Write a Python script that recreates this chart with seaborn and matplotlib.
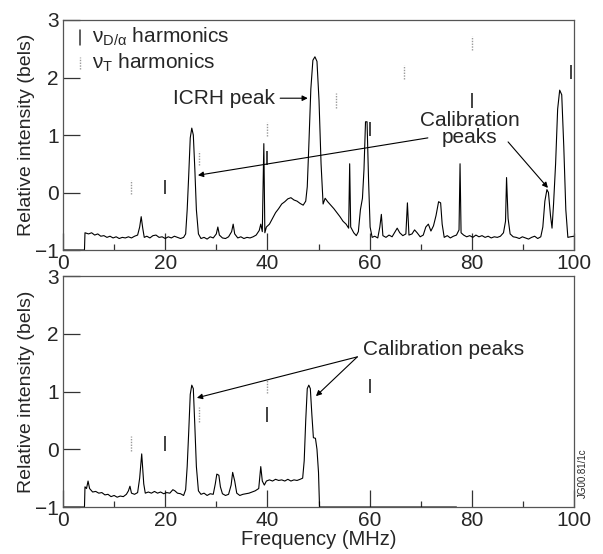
import numpy as np
import pandas as pd
import seaborn as sns
import matplotlib.pyplot as plt

# top spectrum (with ICRH heating), frequency in MHz, intensity in bels
top_freq = [0, 4.2, 4.3, 5, 5.6, 6.2, 6.8, 7.4, 8.0, 8.6, 9.2, 9.8, 10.4, 11.0, 11.6, 12.2, 12.8, 13.4, 14.0, 14.6,
            15.0, 15.3, 15.6, 15.9, 16.4, 17.0, 17.6, 18.2, 18.8, 19.4, 20.0, 20.6, 21.2, 21.8, 22.4, 23.0, 23.6,
            24.0, 24.3, 24.6, 24.9, 25.2, 25.5, 25.8, 26.1, 26.5, 27.0, 27.6, 28.2, 28.8, 29.4, 30.0, 30.3, 30.6,
            31.2, 31.8, 32.4, 33.0, 33.3, 33.6, 34.2, 34.8, 35.4, 36.0, 36.6, 37.2, 37.8, 38.4, 38.7, 39.0, 39.3,
            39.5, 39.8, 40.4, 41.0, 41.6, 42.2, 42.8, 43.4, 44.0, 44.6, 45.2, 45.8, 46.4, 47.0, 47.5, 47.8, 48.1,
            48.5, 48.9, 49.3, 49.7, 50.1, 50.5, 50.9, 51.3, 51.8, 52.4, 53.0, 53.6, 54.2, 54.8, 55.4, 55.9, 56.1,
            56.3, 56.9, 57.4, 57.8, 58.2, 58.6, 58.9, 59.2, 59.5, 59.8, 60.1, 60.5, 61.0, 61.6, 62.0, 62.3, 62.6,
            63.2, 63.8, 64.4, 65.0, 65.4, 65.9, 66.5, 67.1, 67.4, 67.7, 68.3, 68.8, 69.3, 69.9, 70.5, 71.0, 71.5,
            72.0, 72.5, 73.0, 73.5, 73.9, 74.2, 74.6, 75.2, 75.8, 76.4, 77.0, 77.5, 77.7, 77.9, 78.4, 79.0, 79.6,
            80.2, 80.8, 81.4, 82.0, 82.6, 83.2, 83.8, 84.4, 85.0, 85.6, 86.2, 86.6, 86.8, 87.1, 87.5, 88.1, 88.7,
            89.3, 89.9, 90.5, 91.1, 91.7, 92.3, 92.9, 93.5, 93.9, 94.3, 94.7, 95.0, 95.4, 95.7, 96.0, 96.4, 96.8,
            97.2, 97.6, 98.0, 98.4, 98.8, 99.3, 100.0]
top_int = [-1.0, -1.0, -0.70, -0.72, -0.70, -0.74, -0.72, -0.76, -0.75, -0.78, -0.76, -0.79, -0.77, -0.80, -0.78,
           -0.79, -0.77, -0.79, -0.76, -0.74, -0.60, -0.42, -0.62, -0.78, -0.76, -0.79, -0.75, -0.74, -0.78, -0.77,
           -0.80, -0.77, -0.79, -0.76, -0.78, -0.80, -0.78, -0.72, -0.30, 0.30, 0.95, 1.12, 1.00, 0.40, -0.30,
           -0.72, -0.80, -0.78, -0.81, -0.77, -0.79, -0.72, -0.60, -0.74, -0.79, -0.80, -0.77, -0.68, -0.55, -0.72,
           -0.79, -0.77, -0.80, -0.78, -0.79, -0.77, -0.74, -0.66, -0.55, -0.68, 0.85, -0.70, -0.60, -0.55, -0.45,
           -0.35, -0.28, -0.20, -0.16, -0.11, -0.09, -0.13, -0.15, -0.19, -0.22, -0.15, 0.10, 0.80, 1.80, 2.30,
           2.36, 2.28, 1.60, 0.50, -0.20, -0.10, -0.16, -0.22, -0.28, -0.35, -0.42, -0.50, -0.55, -0.62, 0.50,
           -0.60, -0.70, -0.75, -0.68, -0.30, -0.10, 0.40, 1.23, 1.23, 0.20, -0.60, -0.78, -0.76, -0.79, -0.60,
           -0.38, -0.75, -0.78, -0.74, -0.77, -0.68, -0.62, -0.70, -0.75, -0.72, -0.18, -0.74, -0.72, -0.65, -0.70,
           -0.77, -0.74, -0.60, -0.55, -0.67, -0.58, -0.40, -0.16, -0.18, -0.55, -0.78, -0.75, -0.79, -0.76, -0.74,
           -0.65, 0.50, -0.70, -0.74, -0.77, -0.75, -0.78, -0.74, -0.77, -0.75, -0.78, -0.76, -0.79, -0.77, -0.78,
           -0.76, -0.70, -0.50, 0.26, -0.45, -0.72, -0.77, -0.78, -0.80, -0.77, -0.79, -0.81, -0.78, -0.76, -0.80,
           -0.77, -0.60, -0.15, 0.05, 0.00, -0.40, -0.62, -0.20, 0.50, 1.45, 1.78, 1.70, 0.80, -0.30, -0.78, -0.77,
           -0.76]

# bottom spectrum (calibration only)
bot_freq = [0, 4.2, 4.3, 4.6, 4.9, 5.2, 5.8, 6.4, 7.0, 7.6, 8.2, 8.8, 9.4, 10.0, 10.6, 11.2, 11.8, 12.4, 12.8, 13.1,
            13.4, 14.0, 14.6, 15.0, 15.4, 15.8, 16.1, 16.7, 17.3, 17.9, 18.5, 19.1, 19.7, 20.3, 20.9, 21.5, 21.9,
            22.4, 23.0, 23.6, 24.0, 24.3, 24.6, 24.9, 25.2, 25.5, 25.8, 26.1, 26.5, 27.0, 27.6, 28.2, 28.8, 29.4,
            29.8, 30.1, 30.5, 30.8, 31.2, 31.8, 32.4, 32.9, 33.2, 33.6, 34.0, 34.6, 35.2, 35.8, 36.4, 37.0, 37.6,
            38.3, 38.7, 39.0, 39.4, 39.8, 40.4, 41.0, 41.6, 42.2, 42.8, 43.4, 44.0, 44.6, 45.2, 45.8, 46.4, 46.9,
            47.2, 47.5, 47.8, 48.1, 48.4, 48.7, 49.0, 49.4, 49.7, 50.0, 50.2, 77.0]
bot_int = [-1.0, -1.0, -0.65, -0.68, -0.55, -0.68, -0.74, -0.73, -0.76, -0.75, -0.79, -0.78, -0.82, -0.80, -0.83,
           -0.81, -0.82, -0.78, -0.72, -0.64, -0.76, -0.78, -0.75, -0.50, -0.08, -0.60, -0.76, -0.74, -0.76, -0.73,
           -0.76, -0.74, -0.77, -0.75, -0.76, -0.70, -0.72, -0.76, -0.77, -0.80, -0.70, -0.30, 0.30, 0.95, 1.11,
           1.05, 0.40, -0.30, -0.72, -0.78, -0.76, -0.80, -0.77, -0.78, -0.60, -0.43, -0.45, -0.65, -0.77, -0.80,
           -0.78, -0.62, -0.40, -0.55, -0.76, -0.80, -0.78, -0.77, -0.76, -0.74, -0.72, -0.68, -0.30, -0.55, -0.62,
           -0.55, -0.53, -0.55, -0.52, -0.54, -0.53, -0.55, -0.52, -0.55, -0.53, -0.54, -0.52, -0.50, -0.20, 0.50,
           1.05, 1.11, 1.05, 0.60, 0.20, 0.19, 0.00, -0.40, -1.0, -1.0]

# harmonic markers: frequency and height (centre of the tick mark)
dalpha_freq_top = [20, 40, 60, 80, 99.5]
dalpha_lvl_top = [0.1, 0.6, 1.1, 1.6, 2.1]
triton_freq_top = [13.33, 26.67, 40, 53.33, 66.67, 80]
triton_lvl_top = [0.1, 0.6, 1.1, 1.6, 2.1, 2.6]
dalpha_freq_bot = [20, 40, 60]
dalpha_lvl_bot = [0.1, 0.6, 1.1]
triton_freq_bot = [13.33, 26.67, 40]
triton_lvl_bot = [0.1, 0.6, 1.1]

sns.set_style("ticks")
plt.rcParams['font.family'] = ['Liberation Sans', 'DejaVu Sans']
plt.rcParams['mathtext.fontset'] = 'custom'
plt.rcParams['mathtext.rm'] = 'Liberation Sans'
plt.rcParams['mathtext.it'] = 'Liberation Sans'
plt.rcParams['axes.linewidth'] = 0.9

fig = plt.figure(figsize=(6.03, 5.54), dpi=100)
ax1 = fig.add_axes([0.1045, 0.5487, 0.8474, 0.4152])
ax2 = fig.add_axes([0.1045, 0.0848, 0.8474, 0.4170])

top_df = pd.DataFrame({'freq': top_freq, 'val': top_int})
bot_df = pd.DataFrame({'freq': bot_freq, 'val': bot_int})
sns.lineplot(data=top_df, x='freq', y='val', sort=False, estimator=None, color='black', lw=0.8, ax=ax1)
sns.lineplot(data=bot_df, x='freq', y='val', sort=False, estimator=None, color='black', lw=0.8, ax=ax2)


def harmonics(ax, fs, ls, style):
    half = 0.125
    lo = [v - half for v in ls]
    hi = [v + half for v in ls]
    if style == 'solid':
        ax.vlines(fs, lo, hi, color='#333333', lw=1.3)
    else:
        ax.vlines(fs, lo, hi, color='#999999', lw=1.0, linestyles=(0, (1, 1)))


harmonics(ax1, dalpha_freq_top, dalpha_lvl_top, 'solid')
harmonics(ax1, triton_freq_top, triton_lvl_top, 'dotted')
harmonics(ax2, dalpha_freq_bot, dalpha_lvl_bot, 'solid')
harmonics(ax2, triton_freq_bot, triton_lvl_bot, 'dotted')

for ax in (ax1, ax2):
    ax.set_xlim(0, 100)
    ax.set_ylim(-1, 3)
    ax.set_xticks([0, 20, 40, 60, 80, 100])
    ax.set_xticks([10, 30, 50, 70, 90], minor=True)
    ax.set_yticks([-1, 0, 1, 2, 3])
    ax.tick_params(axis='both', which='major', direction='in', length=12, width=0.9,
                   labelsize=15, pad=3, color='#333333')
    ax.tick_params(axis='x', which='minor', direction='in', length=4, width=0.9, color='#333333')
    ax.set_ylabel('Relative intensity (bels)', fontsize=14, labelpad=0)
    ax.set_xlabel('')
    for s in ax.spines.values():
        s.set_color('#555555')

ax2.set_xlabel('Frequency (MHz)', fontsize=14.5, labelpad=0)

# legend keys
ax1.plot([0.033, 0.033], [0.89, 0.955], transform=ax1.transAxes, color='#333333', lw=1.1)
ax1.plot([0.033, 0.033], [0.785, 0.84], transform=ax1.transAxes, color='#999999', lw=1.0, ls=(0, (1, 1)))
ax1.text(0.057, 0.925, r'$\nu_{D/\alpha}$ harmonics', transform=ax1.transAxes, fontsize=15, va='center')
ax1.text(0.057, 0.812, r'$\nu_{T}$ harmonics', transform=ax1.transAxes, fontsize=15, va='center')

arrow = dict(arrowstyle='-|>', color='black', lw=0.8, mutation_scale=8, shrinkA=0, shrinkB=0)
ax1.text(41.5, 1.64, 'ICRH peak', fontsize=15, ha='right', va='center')
ax1.annotate('', xy=(47.9, 1.64), xytext=(42.5, 1.64), arrowprops=arrow)
ax1.text(79.6, 1.10, 'Calibration\npeaks', fontsize=15, ha='center', va='center', linespacing=0.85)
ax1.annotate('', xy=(26.4, 0.30), xytext=(71.4, 0.95), arrowprops=arrow)
ax1.annotate('', xy=(94.9, 0.08), xytext=(87.1, 0.88), arrowprops=arrow)

ax2.text(58.7, 1.72, 'Calibration peaks', fontsize=15, ha='left', va='center')
ax2.annotate('', xy=(26.2, 0.89), xytext=(57.6, 1.60), arrowprops=arrow)
ax2.annotate('', xy=(49.5, 0.92), xytext=(57.6, 1.60), arrowprops=arrow)

fig.text(0.967, 0.145, 'JG00.81/1c', rotation=90, fontsize=7, ha='center', va='center')

fig.savefig('out.png', dpi=100)
